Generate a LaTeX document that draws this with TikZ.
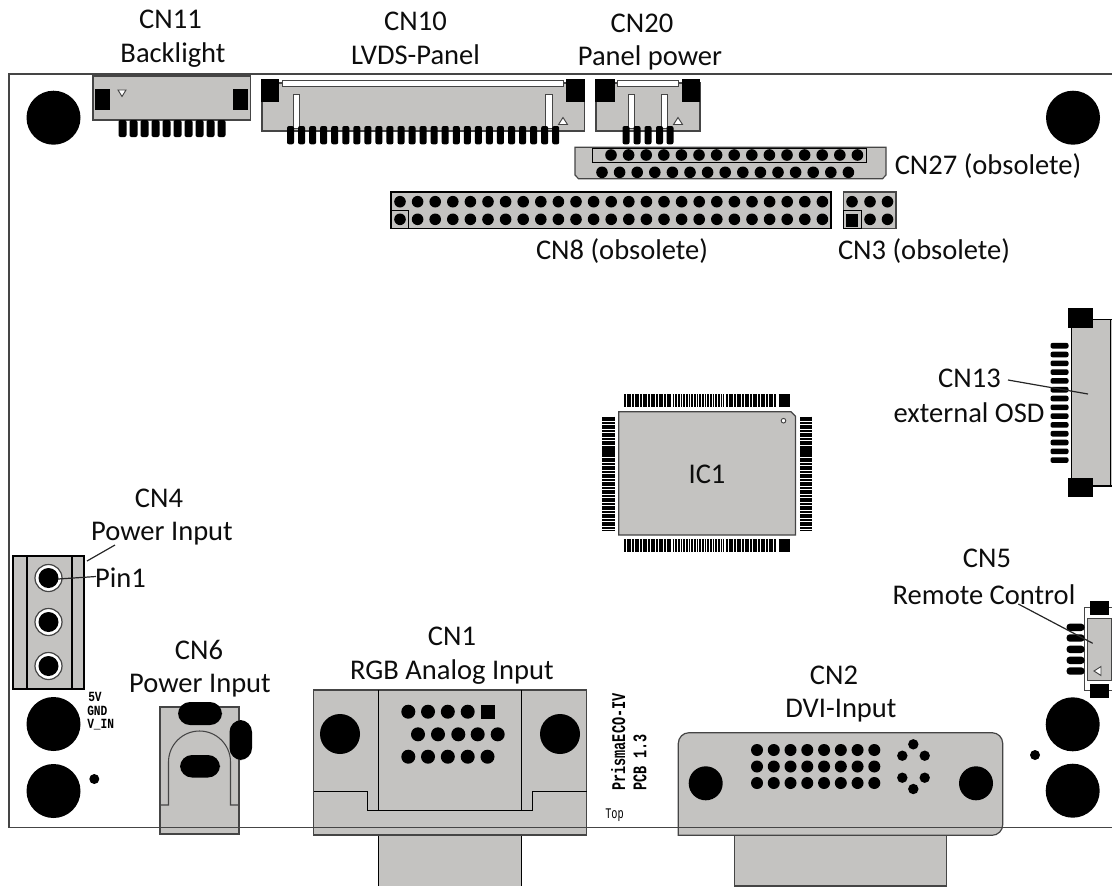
\documentclass[tikz,border=0pt]{standalone}
\usepackage{graphicx}
\usepackage{fontspec}
\setmainfont{Carlito}
\newfontfamily\silkfont{Liberation Mono}
\definecolor{partgray}{HTML}{C4C3C1}
\definecolor{edgegray}{HTML}{454545}

\begin{document}
\begin{tikzpicture}[x=0.75pt, y=-0.75pt,
    lbl/.style={font=\fontsize{21.4}{24}\selectfont, inner sep=0pt, text=black!95},
    silk/.style={inner sep=0pt, anchor=west},
    part/.style={fill=partgray, draw=edgegray, line width=0.9pt},
    wire/.style={draw=black, line width=0.75pt},
    leader/.style={draw=black!85, line width=0.9pt},
    hole/.style={fill=black},
    pin/.style={fill=black, rounded corners=1.5pt},
    slot/.style={fill=white, draw=edgegray, line width=0.7pt},
    qfp/.style={draw=black, line width=9.7pt, dash pattern=on 1.45pt off 0.55pt}]
    \useasboundingbox (0,0) rectangle (1112,886);

    % mounting holes
    \foreach \hx/\hy in {53.5/117.7, 1073/117.7, 53.5/724, 53.5/791, 1072.7/724.3, 1072.7/790.7}
        \fill[hole] (\hx,\hy) circle (27);
    \fill[hole] (94.3,779) circle (5);
    \fill[hole] (1035,755) circle (5);

    % CN11
    \filldraw[part] (93,76) rectangle (250.5,120);
    \fill (95,89.3) rectangle (110,110);
    \fill (232.5,89.3) rectangle (248,110);
    \draw[slot] (118,90) -- (126,90) -- (122,96.5) -- cycle;
    \foreach \i in {0,...,9}
        \fill[pin] (118.5+11*\i,120) rectangle ++(8,17);

    % CN10
    \filldraw[part] (262,83) rectangle (584.5,131);
    \filldraw[slot] (282,80.7) rectangle (563,86.7);
    \fill (260.7,79) rectangle (278.6,102.3);
    \fill (566.3,79) rectangle (584.6,102.3);
    \filldraw[slot] (293,94) rectangle (299,128);
    \filldraw[slot] (545.5,94) rectangle (552,128);
    \draw[slot] (563,117.5) -- (567.5,124.5) -- (558.5,124.5) -- cycle;
    \foreach \i in {0,...,24}
        \fill[pin] (287+11.05*\i,126) rectangle ++(7,18.3);

    % CN20
    \filldraw[part] (596,83) rectangle (700,131);
    \filldraw[slot] (617,80.7) rectangle (678,86.7);
    \fill (595,79) rectangle (614.6,102.3);
    \fill (681.5,79) rectangle (700,102.3);
    \filldraw[slot] (628,94) rectangle (634.6,128);
    \filldraw[slot] (661,94) rectangle (667.4,128);
    \draw[slot] (678,117.5) -- (682.5,124.5) -- (673.5,124.5) -- cycle;
    \foreach \px in {622.5,633.5,644.5,656,666.5}
        \fill[pin] (\px,126) rectangle ++(7,18.3);

    % CN27
    \filldraw[part] (575,147.3) -- (886,147.3) -- (886,175) -- (882.5,178.7) -- (578.5,178.7) -- (575,175) -- cycle;
    \draw[wire] (592.4,148) rectangle (866,162.3);
    \foreach \i in {0,...,14} {
        \fill (611+17.6*\i,155) circle (5.8);
        \fill (602+17.6*\i,172.3) circle (5.8);
    }

    % CN8
    \filldraw[part, draw=black] (391,192) rectangle (831,228.3);
    \draw[wire] (391,210) rectangle (408,228.3);
    \foreach \i in {0,...,24} {
        \fill (400+17.6*\i,201.7) circle (5.8);
        \fill (400+17.6*\i,219.3) circle (5.8);
    }

    % CN3
    \filldraw[part] (843.5,192) rectangle (896,228.3);
    \draw[wire] (843.5,210) rectangle (861,228.3);
    \fill (846,214.3) rectangle (857.5,226.7);
    \foreach \px in {852,870,887.5}
        \fill (\px,201.7) circle (5.8);
    \foreach \px in {870,887.5}
        \fill (\px,219.3) circle (5.8);

    % IC1
    \filldraw[part] (618.7,411.7) -- (791,411.7) -- (795.5,416.2) -- (795.5,535) -- (618.7,535) -- cycle;
    \filldraw[slot] (783.5,420.7) circle (2.3);
    \foreach \py in {400.8,545.4} {
        \draw[qfp] (624,\py) -- (671,\py);
        \draw[qfp] (672.5,\py) -- (724,\py);
        \draw[qfp] (726,\py) -- (776,\py);
        \draw[black, line width=9.7pt] (778.5,\py) -- (790,\py);
    }
    \foreach \px in {608.3,806} {
        \draw[qfp] (\px,416.7) -- (\px,446.7);
        \draw[black, line width=9.7pt] (\px,446.7) -- (\px,455);
        \draw[qfp] (\px,455) -- (\px,530);
    }

    % CN13
    \filldraw[part, draw=black] (1112,319.3) -- (1071.5,319.3) -- (1071.5,486) -- (1112,486);
    \draw[wire] (1110,319.3) -- (1110,486);
    \fill (1067.6,308.3) rectangle (1093.4,328.3);
    \fill (1067.6,478.3) rectangle (1093.4,497.3);
    \foreach \i in {0,...,13}
        \fill[pin] (1050.5,342.9+8.8*\i) rectangle ++(18,5.6);

    % CN5
    \filldraw[fill=white, draw=edgegray, line width=0.6pt] (1112,607.5) -- (1084.5,607.5) -- (1084.5,690.5) -- (1112,690.5);
    \filldraw[part] (1087.5,618.5) rectangle (1111.5,680.5);
    \fill (1089.5,601) rectangle (1108.5,615);
    \fill (1089.5,683.5) rectangle (1108.5,697.5);
    \draw[slot] (1094,671) -- (1101,666.5) -- (1101,675.5) -- cycle;
    \foreach \py in {627.3,638,649.3,660.3,671}
        \fill[pin, rounded corners=2.5pt] (1066.5,\py-3.7) rectangle ++(18,7.4);

    % CN4
    \filldraw[part, draw=black, line width=1.3pt] (13,556) rectangle (84,689);
    \draw[black, line width=1.3pt] (27,556) -- (27,689) (72,556) -- (72,689);
    \foreach \py in {578,622,666} {
        \filldraw[fill=white, draw=edgegray, line width=0.9pt] (48.5,\py) circle (13.5);
        \fill (48.5,\py) circle (10);
    }

    % CN6
    \filldraw[part] (160,707) rectangle (239,834);
    \draw[edgegray, line width=0.8pt] (160,805) -- (168.5,805) -- (168.5,762) arc[start angle=180, end angle=360, radius=31] -- (230.5,805) -- (239,805);
    \fill[rounded corners=9pt] (178,702) rectangle (222,725);
    \fill[rounded corners=9pt] (229.5,720) rectangle (252,760);
    \fill[rounded corners=9pt] (180,755) rectangle (220,777.5);

    % CN1
    \fill[partgray] (378.7,835) rectangle (521.7,886);
    \draw[wire] (378.7,835) -- (378.7,886) (521.7,835) -- (521.7,886);
    \filldraw[part] (313.5,690) rectangle (586.5,835);
    \draw[wire] (378.7,690) -- (378.7,810) (521.7,690) -- (521.7,810);
    \draw[wire] (313.5,791) -- (367.7,791) -- (367.7,810) -- (532.3,810) -- (532.3,791) -- (586.5,791);
    \fill (340,734) circle (20);
    \fill (560,734) circle (20);
    \foreach \px in {408.3,428,447.8,467.7}
        \fill (\px,711.7) circle (7);
    \fill (480.5,704.7) rectangle (494.5,718.7);
    \foreach \px in {418,438,458.3,477.7,497.7}
        \fill (\px,734.3) circle (7);
    \foreach \px in {408.3,428,447.8,467.7,487.5}
        \fill (\px,756.7) circle (7);

    % CN2
    \filldraw[part] (734.7,835) rectangle (946.7,886);
    \filldraw[part, rounded corners=8pt] (678.3,835.3) -- (678.3,732.7) -- (1002.7,732.7) -- (1002.7,835.3) [sharp corners] -- cycle;
    \fill (705.7,783.3) circle (17);
    \fill (976,783.3) circle (17);
    \foreach \py in {750,766.5,783}
        \foreach \i in {0,...,7}
            \fill (757+16.76*\i,\py) circle (6);
    \foreach \px/\py in {913.3/744.3, 902.3/755.7, 924.7/755.7, 902.3/777.7, 924.7/777.7, 913.3/789}
        \fill (\px,\py) circle (5.2);

    % board outline
    \draw[edgegray, line width=0.9pt] (1112,74) -- (9,74) -- (9,827.3) -- (1112,827.3);

    % labels
    \node[lbl] (cn11) at (170.5,19) {CN11};
    \node[lbl] (backlight) at (173,55) {Backlight};
    \node[lbl] (cn10) at (415.5,21) {CN10};
    \node[lbl] (lvds) at (415.5,55) {LVDS-Panel};
    \node[lbl] (cn20) at (642,23) {CN20};
    \node[lbl] (panelpower) at (650,58) {Panel power};
    \node[lbl] (cn27) at (988,166) {CN27 (obsolete)};
    \node[lbl] (cn8) at (622,251) {CN8 (obsolete)};
    \node[lbl] (cn3) at (924,251) {CN3 (obsolete)};
    \node[lbl] (cn13) at (969.5,378) {CN13};
    \node[lbl] (osd) at (969,413) {external OSD};
    \node[lbl] (ic1) at (707,474) {IC1};
    \node[lbl] (cn4) at (159,498) {CN4};
    \node[lbl] (cn4in) at (162,534) {Power Input};
    \node[lbl] (pin1) at (120.5,577.5) {Pin1};
    \node[lbl] (cn6) at (199,650) {CN6};
    \node[lbl] (cn6in) at (200,686) {Power Input};
    \node[lbl] (cn1) at (452,636) {CN1};
    \node[lbl] (rgb) at (452,672) {RGB Analog Input};
    \node[lbl] (cn5) at (987,558) {CN5};
    \node[lbl] (remote) at (984,595) {Remote Control};
    \node[lbl] (cn2) at (834,675) {CN2};
    \node[lbl] (dvi) at (841,711) {DVI-Input};

    % silkscreen texts
    \node[silk, rotate=90, font=\silkfont\bfseries\fontsize{14.5}{16}\selectfont] (prisma) at (618.3,791) {\scalebox{0.7}[1]{PrismaECO-IV}};
    \node[silk, rotate=90, font=\silkfont\bfseries\fontsize{14.5}{16}\selectfont] (pcb) at (640,791) {\scalebox{0.7}[1]{PCB 1.3}};
    \node[silk, font=\silkfont\fontsize{11}{12}\selectfont] (toptxt) at (605,815) {\scalebox{0.7}[1]{Top}};
    \node[silk, font=\silkfont\bfseries\fontsize{10.5}{12}\selectfont] (fivev) at (88,697) {\scalebox{0.8}[1]{5V}};
    \node[silk, font=\silkfont\bfseries\fontsize{10.5}{12}\selectfont] (gnd) at (87,711) {\scalebox{0.8}[1]{GND}};
    \node[silk, font=\silkfont\bfseries\fontsize{10.5}{12}\selectfont] (vin) at (87,724.5) {\scalebox{0.8}[1]{V\_IN}};

    % leaders
    \coordinate (cn4from) at (115,545);
    \coordinate (cn4to) at (87,561);
    \coordinate (pinfrom) at (96,576.5);
    \coordinate (pinto) at (58,579);
    \coordinate (cn13from) at (1008,380);
    \coordinate (cn13to) at (1088,394);
    \coordinate (cn5from) at (1018.3,604);
    \coordinate (cn5to) at (1092.7,643.3);
    \path[leader]
    (cn4from) edge (cn4to)
    (pinfrom) edge (pinto)
    (cn13from) edge (cn13to)
    (cn5from) edge (cn5to);
\end{tikzpicture}
\end{document}
